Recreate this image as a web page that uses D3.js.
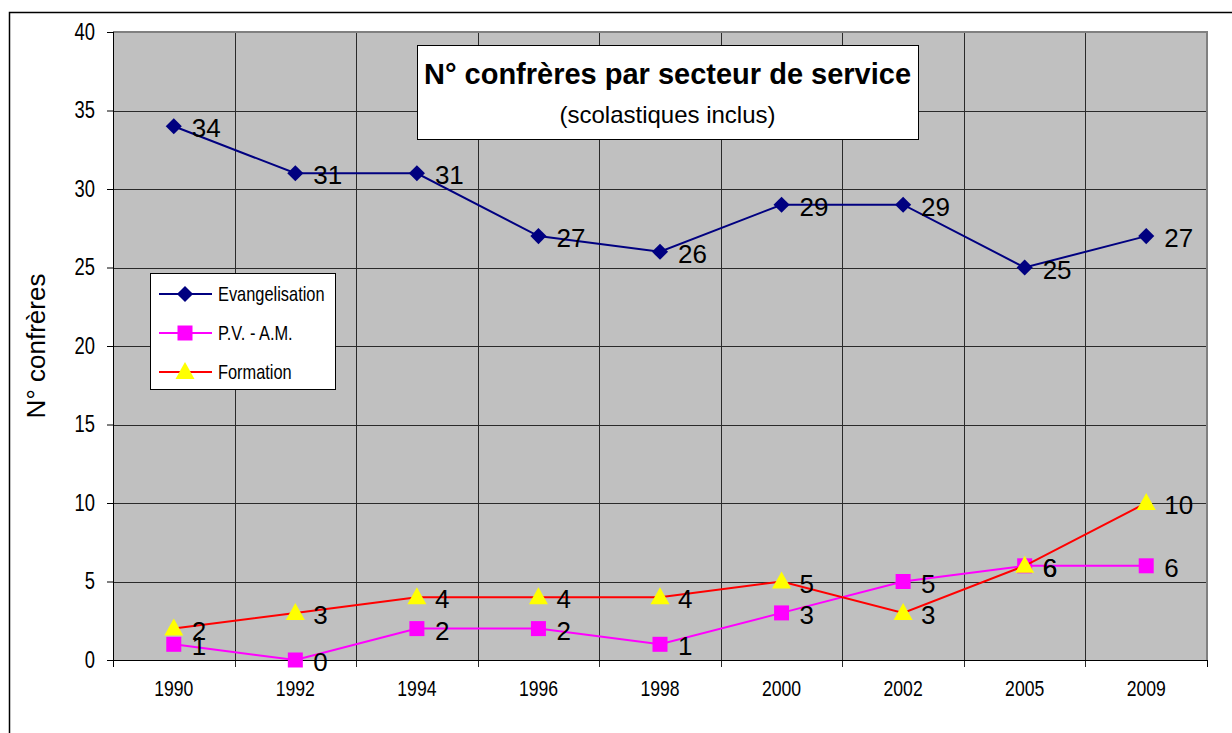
<!DOCTYPE html>
<html>
<head>
<meta charset="utf-8">
<script src="https://cdnjs.cloudflare.com/ajax/libs/d3/7.8.5/d3.min.js"></script>
<style>
  body { margin: 0; background: #ffffff; }
  svg { display: block; font-family: "Liberation Sans", Arial, sans-serif; }
  .tick text { fill: #000; }
</style>
</head>
<body>
<div id="chart"></div>
<script>
// Chart data
const years = ['1990', '1992', '1994', '1996', '1998', '2000', '2002', '2005', '2009'];
const evangelisation = [34, 31, 31, 27, 26, 29, 29, 25, 27];
const pvam = [1, 0, 2, 2, 1, 3, 5, 6, 6];
const formation = [2, 3, 4, 4, 4, 5, 3, 6, 10];
const yTicks = [0, 5, 10, 15, 20, 25, 30, 35, 40];

const W = 1232, H = 733;
const plot = { left: 113, top: 32, right: 1207, bottom: 660 };
const NARROW = 0.8; // squeeze factor to mimic a condensed face

const svg = d3.select('#chart').append('svg')
    .attr('width', W)
    .attr('height', H);

// outer chart frame (left + top edges visible)
svg.append('path')
    .attr('d', `M9.5,${H} V12.5 H${W}`)
    .attr('fill', 'none')
    .attr('stroke', '#000')
    .attr('stroke-width', 1.5);

const x = d3.scaleBand().domain(years).range([plot.left, plot.right]);
const y = d3.scaleLinear().domain([0, 40]).range([plot.bottom, plot.top]);

// grey plot area
svg.append('rect')
    .attr('x', plot.left).attr('y', plot.top)
    .attr('width', plot.right - plot.left)
    .attr('height', plot.bottom - plot.top)
    .attr('fill', '#c0c0c0');

// horizontal gridlines
svg.append('g').selectAll('line')
    .data(yTicks.filter(d => d > 0 && d < 40))
    .join('line')
    .attr('x1', plot.left).attr('x2', plot.right)
    .attr('y1', d => Math.round(y(d)) + 0.5).attr('y2', d => Math.round(y(d)) + 0.5)
    .attr('stroke', '#2a2a2a').attr('stroke-width', 1);

// vertical gridlines at category boundaries (extend below as tick marks)
const bounds = years.slice(1).map(yr => x(yr));
svg.append('g').selectAll('line')
    .data(bounds)
    .join('line')
    .attr('x1', d => Math.round(d) + 0.5).attr('x2', d => Math.round(d) + 0.5)
    .attr('y1', plot.top).attr('y2', plot.bottom + 7)
    .attr('stroke', '#2a2a2a').attr('stroke-width', 1);

// plot border: grey top/right
svg.append('path')
    .attr('d', `M${plot.left},${plot.top} H${plot.right} V${plot.bottom}`)
    .attr('fill', 'none')
    .attr('stroke', '#808080')
    .attr('stroke-width', 2);

// y axis
const yAxis = d3.axisLeft(y).tickValues(yTicks).tickSize(6).tickPadding(8);
const gy = svg.append('g')
    .attr('transform', `translate(${plot.left},0)`)
    .call(yAxis)
    .attr('font-family', null)
    .attr('font-size', 23);
gy.select('.domain').attr('stroke', '#000').attr('d', `M0.5,${plot.top}V${plot.bottom}`);
gy.selectAll('.tick line').attr('stroke', '#000');
gy.selectAll('.tick text')
    .attr('x', -18 / NARROW)
    .attr('transform', `scale(${NARROW},1)`);

// x axis
const xAxis = d3.axisBottom(x).tickSize(0).tickPadding(20);
const gx = svg.append('g')
    .attr('transform', `translate(0,${plot.bottom})`)
    .call(xAxis)
    .attr('font-family', null)
    .attr('font-size', 22);
gx.select('.domain').attr('stroke', '#000').attr('d', `M${plot.left},0.5H${plot.right}`);
gx.selectAll('.tick text')
    .attr('transform', `scale(${NARROW},1)`);
// outer tick marks at ends
svg.append('g').selectAll('line')
    .data([plot.left, plot.right])
    .join('line')
    .attr('x1', d => d + 0.5).attr('x2', d => d + 0.5)
    .attr('y1', plot.bottom).attr('y2', plot.bottom + 7)
    .attr('stroke', '#000');

// y axis title
svg.append('text')
    .attr('transform', `translate(45,${(plot.top + plot.bottom) / 2}) rotate(-90)`)
    .attr('text-anchor', 'middle')
    .style('font-size', '26px')
    .text('N° confrères');

const cx = d => x(d) + x.bandwidth() / 2;

const series = [
    { name: 'Evangelisation', values: evangelisation, line: '#000080', fill: '#000080' },
    { name: 'P.V. - A.M.', values: pvam, line: '#ff00ff', fill: '#ff00ff' },
    { name: 'Formation', values: formation, line: '#ff0000', fill: '#ffff00' }
];

// diamond symbol shaped like Excel's (square rotated)
const diamond = d3.symbol().type(d3.symbolSquare).size(130);

function drawMarker(g, s) {
    if (s.name === 'Evangelisation') {
        g.append('path').attr('d', diamond()).attr('transform', 'rotate(45)').attr('fill', s.fill);
    } else if (s.name === 'Formation') {
        g.append('path').attr('d', 'M0,-10 L9.5,7 L-9.5,7 Z').attr('fill', s.fill);
    } else {
        g.append('path').attr('d', 'M-7.5,-7.5 H7.5 V7.5 H-7.5 Z').attr('fill', s.fill);
    }
}

const line = d3.line()
    .x((d, i) => cx(years[i]))
    .y(d => y(d));

series.forEach(s => {
    const g = svg.append('g');
    g.append('path')
        .datum(s.values)
        .attr('d', line)
        .attr('fill', 'none')
        .attr('stroke', s.line)
        .attr('stroke-width', 2);
    s.values.forEach((v, i) => {
        const m = g.append('g').attr('transform', `translate(${cx(years[i])},${y(v)})`);
        drawMarker(m, s);
    });
});

// data labels drawn on top
series.forEach(s => {
    svg.append('g').selectAll('text')
        .data(s.values)
        .join('text')
        .attr('x', (d, i) => cx(years[i]) + 18)
        .attr('y', d => y(d) + 11)
        .style('font-size', '26px')
        .attr('fill', '#000')
        .text(d => d);
});

// title box
const tb = { x: 417, y: 45, w: 501, h: 94 };
svg.append('rect')
    .attr('x', tb.x + 0.5).attr('y', tb.y + 0.5)
    .attr('width', tb.w).attr('height', tb.h)
    .attr('fill', '#fff').attr('stroke', '#000').attr('stroke-width', 1);
svg.append('text')
    .attr('x', tb.x + tb.w / 2).attr('y', 84)
    .attr('text-anchor', 'middle')
    .style('font-weight', 'bold')
    .style('font-size', '29px')
    .text('N° confrères par secteur de service');
svg.append('text')
    .attr('x', tb.x + tb.w / 2).attr('y', 123)
    .attr('text-anchor', 'middle')
    .style('font-size', '24px')
    .text('(scolastiques inclus)');

// legend
const lg = { x: 150, y: 273, w: 185, h: 116 };
const legend = svg.append('g');
legend.append('rect')
    .attr('x', lg.x + 0.5).attr('y', lg.y + 0.5)
    .attr('width', lg.w).attr('height', lg.h)
    .attr('fill', '#fff').attr('stroke', '#000');
series.forEach((s, i) => {
    const ly = 294 + i * 39;
    legend.append('line')
        .attr('x1', 159).attr('x2', 212)
        .attr('y1', ly).attr('y2', ly)
        .attr('stroke', s.line).attr('stroke-width', 2);
    const m = legend.append('g').attr('transform', `translate(185,${ly})`);
    drawMarker(m, s);
    legend.append('text')
        .attr('transform', `translate(218,${ly + 7}) scale(0.82,1)`)
        .style('font-size', '20px')
        .text(s.name);
});
</script>
</body>
</html>
